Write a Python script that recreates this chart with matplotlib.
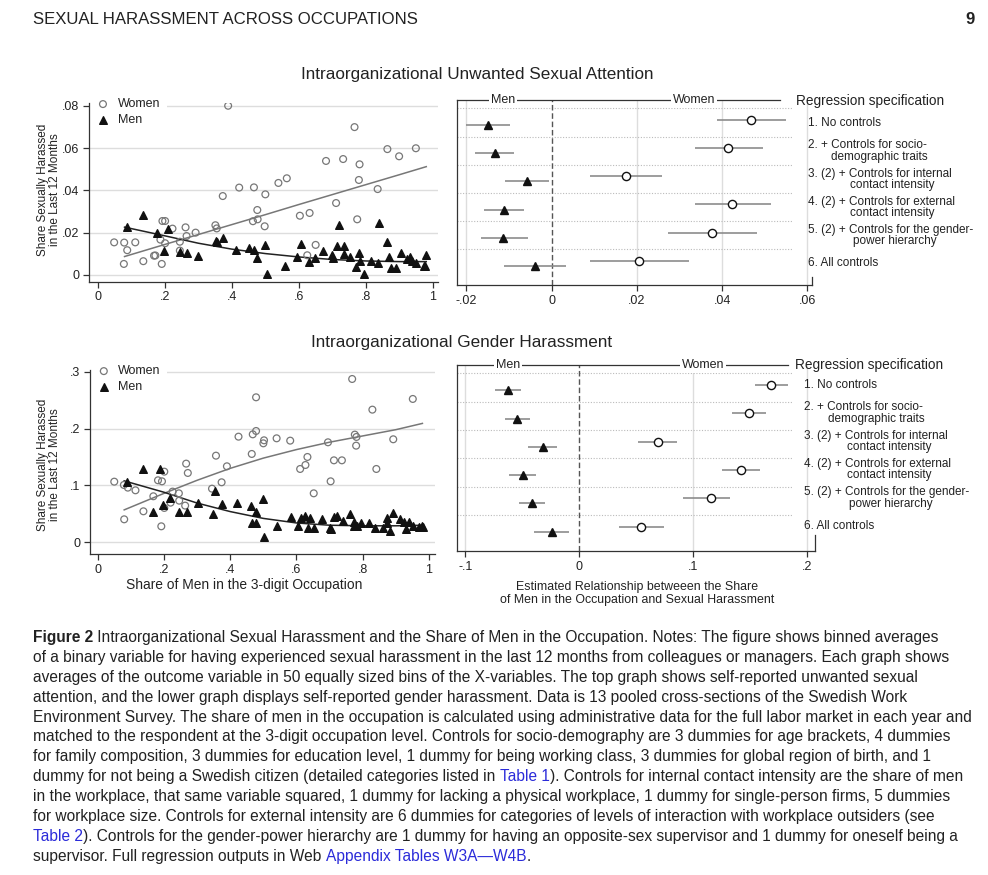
import numpy as np
import matplotlib
matplotlib.use('Agg')
import matplotlib.pyplot as plt
from matplotlib.patches import Rectangle

plt.rcParams['font.family'] = ['Liberation Sans', 'DejaVu Sans']

W, H = 988, 875

# ---- top-left scatter: unwanted sexual attention (binned averages)
women_x_top = [0.049, 0.079, 0.112, 0.078, 0.088, 0.136, 0.168, 0.187, 0.193, 0.201, 0.201, 0.191,
               0.223, 0.245, 0.245, 0.262, 0.265, 0.292, 0.351, 0.355, 0.373, 0.389, 0.422, 0.466,
               0.463, 0.476, 0.477, 0.500, 0.498, 0.539, 0.564, 0.603, 0.632, 0.625, 0.650, 0.681,
               0.711, 0.732, 0.766, 0.781, 0.779, 0.774, 0.835, 0.864, 0.899, 0.949, 0.172]
women_y_top = [0.0154, 0.0153, 0.0154, 0.0052, 0.0117, 0.0065, 0.0091, 0.0167, 0.0255, 0.0255, 0.0150, 0.0052,
               0.0219, 0.0115, 0.0157, 0.0225, 0.0184, 0.0200, 0.0235, 0.0220, 0.0373, 0.0800, 0.0413, 0.0414,
               0.0254, 0.0307, 0.0263, 0.0381, 0.0230, 0.0435, 0.0457, 0.0280, 0.0293, 0.0093, 0.0142, 0.0539,
               0.0340, 0.0548, 0.0699, 0.0523, 0.0449, 0.0263, 0.0406, 0.0595, 0.0561, 0.0599, 0.0092]
men_x_top = [0.088, 0.136, 0.177, 0.198, 0.209, 0.244, 0.265, 0.300, 0.352, 0.355, 0.374, 0.413,
             0.451, 0.466, 0.476, 0.498, 0.506, 0.560, 0.594, 0.606, 0.629, 0.649, 0.672, 0.700,
             0.701, 0.721, 0.715, 0.734, 0.734, 0.752, 0.770, 0.779, 0.781, 0.793, 0.814, 0.837,
             0.839, 0.863, 0.869, 0.875, 0.891, 0.906, 0.923, 0.930, 0.938, 0.948, 0.972, 0.975, 0.980]
men_y_top = [0.0228, 0.0282, 0.0200, 0.0112, 0.0216, 0.0109, 0.0104, 0.0090, 0.0159, 0.0156, 0.0176, 0.0118,
             0.0128, 0.0118, 0.0082, 0.0140, 0.0006, 0.0041, 0.0085, 0.0145, 0.0061, 0.0082, 0.0115, 0.0096,
             0.0080, 0.0235, 0.0135, 0.0137, 0.0098, 0.0087, 0.0039, 0.0105, 0.0068, 0.0006, 0.0068, 0.0055,
             0.0244, 0.0156, 0.0083, 0.0033, 0.0033, 0.0104, 0.0076, 0.0087, 0.0068, 0.0055, 0.0043, 0.0043, 0.0095]
fit_x_top = [0.08, 0.2, 0.3, 0.4, 0.5, 0.6, 0.7, 0.8, 0.9, 0.98]
fit_women_top = [0.0087, 0.0144, 0.0191, 0.0238, 0.0285, 0.0333, 0.0380, 0.0427, 0.0474, 0.0512]
fit_men_top = [0.0226, 0.0185, 0.0150, 0.0122, 0.0101, 0.0085, 0.0073, 0.0066, 0.0063, 0.0063]

# ---- bottom-left scatter: gender harassment
women_x_bot = [0.050, 0.079, 0.091, 0.114, 0.080, 0.138, 0.168, 0.182, 0.194, 0.201, 0.201, 0.192,
               0.220, 0.226, 0.245, 0.246, 0.264, 0.267, 0.272, 0.345, 0.357, 0.374, 0.390, 0.425,
               0.465, 0.468, 0.478, 0.478, 0.500, 0.502, 0.540, 0.581, 0.611, 0.627, 0.633, 0.652,
               0.695, 0.703, 0.713, 0.737, 0.768, 0.776, 0.781, 0.780, 0.829, 0.841, 0.892, 0.951]
women_y_bot = [0.1066, 0.1008, 0.0961, 0.0914, 0.0404, 0.0545, 0.0809, 0.1090, 0.1072, 0.1242, 0.0604, 0.0281,
               0.0697, 0.0891, 0.0861, 0.0732, 0.0645, 0.1383, 0.1219, 0.0943, 0.1523, 0.1055, 0.1336, 0.1857,
               0.1553, 0.1898, 0.1957, 0.2549, 0.1740, 0.1793, 0.1828, 0.1787, 0.1289, 0.1359, 0.1500, 0.0861,
               0.1758, 0.1072, 0.1441, 0.1441, 0.2871, 0.1893, 0.1852, 0.1699, 0.2332, 0.1289, 0.1811, 0.2520]
men_x_bot = [0.088, 0.138, 0.168, 0.187, 0.198, 0.218, 0.245, 0.269, 0.304, 0.349, 0.355, 0.374,
             0.420, 0.463, 0.467, 0.478, 0.479, 0.500, 0.503, 0.540, 0.584, 0.604, 0.613, 0.627,
             0.634, 0.641, 0.654, 0.677, 0.702, 0.704, 0.713, 0.723, 0.739, 0.760, 0.775, 0.775,
             0.782, 0.795, 0.819, 0.838, 0.862, 0.872, 0.873, 0.882, 0.892, 0.911, 0.923, 0.930,
             0.940, 0.953, 0.971, 0.978, 0.983]
men_y_bot = [0.1066, 0.1289, 0.0539, 0.1289, 0.0662, 0.0773, 0.0539, 0.0539, 0.0697, 0.0492, 0.0908, 0.0668,
             0.0691, 0.0639, 0.0334, 0.0334, 0.0533, 0.0756, 0.0088, 0.0281, 0.0445, 0.0293, 0.0422, 0.0457,
             0.0258, 0.0422, 0.0258, 0.0410, 0.0258, 0.0234, 0.0445, 0.0469, 0.0375, 0.0504, 0.0363, 0.0293,
             0.0293, 0.0340, 0.0340, 0.0258, 0.0258, 0.0434, 0.0340, 0.0199, 0.0516, 0.0404, 0.0352, 0.0234,
             0.0363, 0.0281, 0.0270, 0.0293, 0.0270]
fit_x_bot = [0.08, 0.2, 0.3, 0.4, 0.5, 0.6, 0.7, 0.8, 0.9, 0.98]
fit_women_bot = [0.057, 0.086, 0.109, 0.130, 0.148, 0.163, 0.176, 0.187, 0.198, 0.209]
fit_men_bot = [0.108, 0.088, 0.069, 0.054, 0.042, 0.034, 0.030, 0.029, 0.029, 0.030]

# ---- coefficient plots (6 specifications)
spec_labels = [['1. No controls'],
               ['2. + Controls for socio-', 'demographic traits'],
               ['3. (2) + Controls for internal', 'contact intensity'],
               ['4. (2) + Controls for external', 'contact intensity'],
               ['5. (2) + Controls for the gender-', 'power hierarchy'],
               ['6. All controls']]
coef_w_top = [0.0468, 0.0413, 0.0175, 0.0424, 0.0377, 0.0205]
lo_w_top = [0.0389, 0.0337, 0.0089, 0.0337, 0.0273, 0.0089]
hi_w_top = [0.0549, 0.0495, 0.0260, 0.0515, 0.0482, 0.0323]
coef_m_top = [-0.0148, -0.0132, -0.0058, -0.0111, -0.0114, -0.0038]
lo_m_top = [-0.0200, -0.0179, -0.0109, -0.0158, -0.0166, -0.0111]
hi_m_top = [-0.0097, -0.0088, -0.0006, -0.0064, -0.0055, 0.0034]

coef_w_bot = [0.168, 0.149, 0.0687, 0.142, 0.116, 0.0544]
lo_w_bot = [0.154, 0.134, 0.0515, 0.125, 0.0915, 0.035]
hi_w_bot = [0.183, 0.164, 0.0860, 0.159, 0.132, 0.074]
coef_m_bot = [-0.0626, -0.0544, -0.0322, -0.0497, -0.0415, -0.0243]
lo_m_bot = [-0.074, -0.065, -0.045, -0.0617, -0.0532, -0.0398]
hi_m_bot = [-0.051, -0.043, -0.0196, -0.0377, -0.0298, -0.0094]

TXT = '#222222'
GRID = '#dddddd'


def box(l, t, r, b):
    return [l / W, 1 - b / H, (r - l) / W, (b - t) / H]


def ftext(x, y, s, **kw):
    kw.setdefault('color', TXT)
    return fig.text(x / W, 1 - y / H, s, **kw)


fig = plt.figure(figsize=(W / 100, H / 100), dpi=100)


def scatter_panel(rect, xlim, ylim, yticks, ylabels, wx, wy, mx, my, fx, fw, fm):
    ax = fig.add_axes(rect)
    ax.set_xlim(*xlim)
    ax.set_ylim(*ylim)
    for s in ['top', 'right']:
        ax.spines[s].set_visible(False)
    for s in ['left', 'bottom']:
        ax.spines[s].set_color('#333333')
        ax.spines[s].set_linewidth(0.9)
    for yv in yticks:
        ax.axhline(yv, color=GRID, lw=1, zorder=0.5)
    ax.set_yticks(yticks)
    ax.set_yticklabels(ylabels)
    ax.set_xticks([0, 0.2, 0.4, 0.6, 0.8, 1])
    ax.set_xticklabels(['0', '.2', '.4', '.6', '.8', '1'])
    ax.tick_params(direction='out', length=4, width=0.9, color='#333333', labelsize=9, labelcolor=TXT, pad=3)
    ax.scatter(wx, wy, s=24, marker='o', facecolors='none', edgecolors='#777777', linewidths=0.9, zorder=3)
    ax.scatter(mx, my, s=30, marker='^', color='#111111', zorder=3)
    ax.plot(fx, fw, color='#777777', lw=1.1, zorder=2)
    ax.plot(fx, fm, color='#222222', lw=1.1, zorder=2)
    # legend inside plot region
    ax.add_patch(Rectangle((0.004, 0.86), 0.22, 0.16, transform=ax.transAxes, facecolor='white',
                           edgecolor='none', zorder=1, clip_on=False))
    ax.scatter([0.04], [0.994], s=24, marker='o', facecolors='none', edgecolors='#777777', linewidths=0.9,
               transform=ax.transAxes, clip_on=False, zorder=4)
    ax.scatter([0.04], [0.906], s=30, marker='^', color='#111111', transform=ax.transAxes, clip_on=False, zorder=4)
    ax.text(0.082, 0.994, 'Women', transform=ax.transAxes, va='center', fontsize=9, color=TXT)
    ax.text(0.082, 0.906, 'Men', transform=ax.transAxes, va='center', fontsize=9, color=TXT)
    return ax


def coef_panel(rect, xlim, xticks, xlabels, cw, lw_, hw, cm, lm, hm, men_f, women_f, line_end, grid_end, rseg):
    ax = fig.add_axes(rect)
    ax.set_xlim(*xlim)
    ax.set_ylim(6.77, 0.2)
    rows = np.arange(1, 7)
    for s in ['top', 'right']:
        ax.spines[s].set_visible(False)
    for s in ['left', 'bottom']:
        ax.spines[s].set_color('#333333')
        ax.spines[s].set_linewidth(0.9)
    ax.set_yticks([])
    ax.set_xticks(xticks)
    ax.set_xticklabels(xlabels)
    ax.tick_params(axis='x', direction='out', length=4, width=0.9, color='#333333', labelsize=9,
                   labelcolor=TXT, pad=3)
    for xv in xticks:
        if xv != 0:
            ax.axvline(xv, color=GRID, lw=1, zorder=0.5)
    ax.axvline(0, color='#555555', lw=1, ls=(0, (4, 2)), zorder=1)
    for r in rows:
        ax.axhline(r - 0.5, xmin=0, xmax=grid_end, color='#bbbbbb', lw=0.8, ls=(0, (1, 1.5)), zorder=0.6)
    yw = rows - 0.09
    ym = rows + 0.09
    ax.hlines(yw, lw_, hw, color='#8c8c8c', lw=1.2, zorder=2)
    ax.hlines(ym, lm, hm, color='#8c8c8c', lw=1.2, zorder=2)
    ax.plot(cw, yw, ls='none', marker='o', ms=5.9, mfc='white', mec='#111111', mew=1.0, zorder=3)
    ax.plot(cm, ym, ls='none', marker='^', ms=6.4, color='#111111', zorder=3)
    # top border broken by group labels
    ax.plot([0, line_end], [1, 1], transform=ax.transAxes, color='#333333', lw=0.9, clip_on=False)
    for f, lab in [(men_f, 'Men'), (women_f, 'Women')]:
        ax.text(f, 1, lab, transform=ax.transAxes, ha='center', va='center', fontsize=9, color=TXT,
                bbox=dict(facecolor='white', edgecolor='none', pad=1.5), zorder=5)
    ax.plot([1, 1], [0, rseg], transform=ax.transAxes, color='#333333', lw=0.9, clip_on=False)
    return ax


# top row
scatter_panel(box(89, 103, 438, 281.7), (-0.026, 1.015), (-0.0032, 0.0813),
              [0, 0.02, 0.04, 0.06, 0.08], ['0', '.02', '.04', '.06', '.08'],
              women_x_top, women_y_top, men_x_top, men_y_top, fit_x_top, fit_women_top, fit_men_top)
coef_panel(box(457.3, 100, 811.7, 285), (-0.0221, 0.0610), [-0.02, 0, 0.02, 0.04, 0.06],
           ['-.02', '0', '.02', '.04', '.06'],
           coef_w_top, lo_w_top, hi_w_top, coef_m_top, lo_m_top, hi_m_top,
           0.129, 0.668, 0.911, 0.947, 0.045)

# bottom row
scatter_panel(box(90, 370, 435, 554.3), (-0.0232, 1.018), (-0.0211, 0.3029),
              [0, 0.1, 0.2, 0.3], ['0', '.1', '.2', '.3'],
              women_x_bot, women_y_bot, men_x_bot, men_y_bot, fit_x_bot, fit_women_bot, fit_men_bot)
coef_panel(box(457.3, 365, 815, 551), (-0.107, 0.2069), [-0.1, 0, 0.1, 0.2], ['-.1', '0', '.1', '.2'],
           coef_w_bot, lo_w_bot, hi_w_bot, coef_m_bot, lo_m_bot, hi_m_bot,
           0.142, 0.687, 0.925, 0.938, 0.086)

# axis titles
for yc in [190, 465]:
    ftext(49, yc, 'Share Sexually Harassed\nin the Last 12 Months', rotation=90, ha='center', va='center',
          fontsize=8.5, linespacing=0.95)
ftext(244.5, 585, 'Share of Men in the 3-digit Occupation', ha='center', va='center', fontsize=9.9)
ftext(637, 587, 'Estimated Relationship betweeen the Share', ha='center', va='center', fontsize=8.9)
ftext(637, 600, 'of Men in the Occupation and Sexual Harassment', ha='center', va='center', fontsize=8.9)

# panel titles
ftext(477, 75, 'Intraorganizational Unwanted Sexual Attention', ha='center', va='center', fontsize=12.3)
ftext(461.5, 343, 'Intraorganizational Gender Harassment', ha='center', va='center', fontsize=12.3)

# regression specification legends
for title_x, title_y, item_x, c0, step, indents in [
        (796, 101, 808, 122.5, 28.17, [831, 850, 850, 853]),
        (795, 365, 804, 384.5, 28.27, [828, 847, 847, 849])]:
    ftext(title_x, title_y, 'Regression specification', va='center', fontsize=9.8)
    k = 0
    for i, lines in enumerate(spec_labels):
        yc = c0 + i * step
        if len(lines) == 1:
            ftext(item_x, yc, lines[0], va='center', fontsize=8.5)
        else:
            ftext(item_x, yc - 5.3, lines[0], va='center', fontsize=8.5)
            ftext(indents[k], yc + 6, lines[1], va='center', fontsize=8.5)
            k += 1

# page header
ftext(33, 20, 'SEXUAL HARASSMENT ACROSS OCCUPATIONS', va='center', fontsize=12.1)
ftext(975, 20, '9', va='center', ha='right', fontsize=12, fontweight='bold')

# caption with inline bold / blue segments
BLUE = '#2b2bd9'
caption = [
    [('Figure 2', 'bold', TXT), (' Intraorganizational Sexual Harassment and the Share of Men in the Occupation. '
                                  'Notes: The figure shows binned averages', 'normal', TXT)],
    [('of a binary variable for having experienced sexual harassment in the last 12 months from colleagues '
      'or managers. Each graph shows', 'normal', TXT)],
    [('averages of the outcome variable in 50 equally sized bins of the X-variables. The top graph shows '
      'self-reported unwanted sexual', 'normal', TXT)],
    [('attention, and the lower graph displays self-reported gender harassment. Data is 13 pooled '
      'cross-sections of the Swedish Work', 'normal', TXT)],
    [('Environment Survey. The share of men in the occupation is calculated using administrative data for '
      'the full labor market in each year and', 'normal', TXT)],
    [('matched to the respondent at the 3-digit occupation level. Controls for socio-demography are 3 dummies '
      'for age brackets, 4 dummies', 'normal', TXT)],
    [('for family composition, 3 dummies for education level, 1 dummy for being working class, 3 dummies for '
      'global region of birth, and 1', 'normal', TXT)],
    [('dummy for not being a Swedish citizen (detailed categories listed in ', 'normal', TXT),
     ('Table 1', 'normal', BLUE),
     ('). Controls for internal contact intensity are the share of men', 'normal', TXT)],
    [('in the workplace, that same variable squared, 1 dummy for lacking a physical workplace, 1 dummy for '
      'single-person firms, 5 dummies', 'normal', TXT)],
    [('for workplace size. Controls for external intensity are 6 dummies for categories of levels of '
      'interaction with workplace outsiders (see', 'normal', TXT)],
    [('Table 2', 'normal', BLUE),
     ('). Controls for the gender-power hierarchy are 1 dummy for having an opposite-sex supervisor and '
      '1 dummy for oneself being a', 'normal', TXT)],
    [('supervisor. Full regression outputs in Web ', 'normal', TXT),
     ('Appendix Tables W3A\u2014W4B', 'normal', BLUE), ('.', 'normal', TXT)],
]
renderer = fig.canvas.get_renderer()
for li, segs in enumerate(caption):
    x = 33
    y = 642 + li * 19.9
    for s, wgt, col in segs:
        t = ftext(x, y, s, va='baseline', fontsize=11.2, fontweight=wgt, color=col)
        x += t.get_window_extent(renderer).width

fig.savefig('out.png', dpi=100)
